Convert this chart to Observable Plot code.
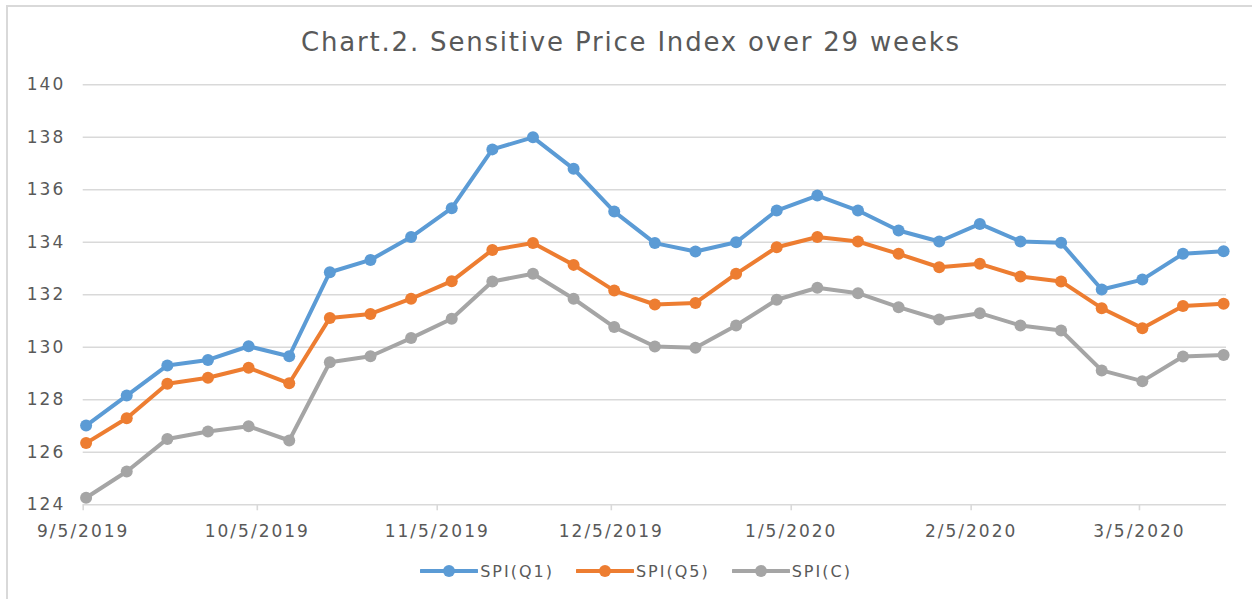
<!DOCTYPE html>
<html>
<head>
<meta charset="utf-8">
<script src="https://cdn.jsdelivr.net/npm/d3@7"></script>
<script src="https://cdn.jsdelivr.net/npm/@observablehq/plot@0.6"></script>
<style>
  html, body { margin: 0; padding: 0; background: #fff; }
  body { width: 1252px; height: 599px; overflow: hidden; position: relative; font-family: "DejaVu Sans", sans-serif; }
  #frame { position: absolute; left: 6px; top: 5px; width: 1300px; height: 700px; border: 2px solid #d9d9d9; box-sizing: border-box; }
  #title { position: relative; height: 64px; text-align: center; font-size: 26px; color: #595959; line-height: 24px; padding-top: 30px; padding-left: 10px; box-sizing: border-box; letter-spacing: 1.8px; }
  #chart { position: relative; }
  #chart svg text { letter-spacing: 2px; }
  #legend { position: absolute; left: 0; top: 561px; width: 1252px; padding-left: 20px; box-sizing: border-box; display: flex; justify-content: center; gap: 22px; font-size: 16px; color: #595959; letter-spacing: 2px; }
  .item { display: flex; align-items: center; }
  .item svg { margin-right: 2px; }
</style>
</head>
<body>
<div id="frame"></div>
<div id="title">Chart.2. Sensitive Price Index over 29 weeks</div>
<div id="chart"></div>
<div id="legend"></div>
<script>
// Weekly observation dates
const dates = [
  "2019-09-05","2019-09-12","2019-09-19","2019-09-26","2019-10-03","2019-10-10","2019-10-17",
  "2019-10-24","2019-10-31","2019-11-07","2019-11-14","2019-11-21","2019-11-28","2019-12-05",
  "2019-12-12","2019-12-19","2019-12-26","2020-01-02","2020-01-09","2020-01-16","2020-01-23",
  "2020-01-30","2020-02-06","2020-02-13","2020-02-20","2020-02-27","2020-03-05","2020-03-12",
  "2020-03-19"
];
const spiQ1 = [127.02,128.16,129.31,129.52,130.04,129.66,132.86,133.33,134.20,135.30,137.54,138.00,136.80,135.17,
  133.97,133.65,134.00,135.21,135.78,135.21,134.45,134.03,134.70,134.03,133.98,132.20,132.58,133.56,133.66];
const spiQ5 = [126.35,127.30,128.61,128.84,129.22,128.63,131.12,131.27,131.85,132.52,133.71,133.97,133.14,132.16,
  131.63,131.69,132.80,133.81,134.20,134.03,133.56,133.05,133.18,132.70,132.51,131.49,130.73,131.57,131.66];
const spiC = [124.27,125.27,126.51,126.79,126.99,126.45,129.43,129.66,130.35,131.09,132.51,132.80,131.85,130.77,
  130.03,129.98,130.83,131.81,132.27,132.06,131.53,131.06,131.30,130.83,130.64,129.12,128.71,129.65,129.71];
const seriesNames = ["SPI(Q1)", "SPI(Q5)", "SPI(C)"];
const seriesColors = ["#5b9bd5", "#ed7d31", "#a5a5a5"];
const monthTicks = ["2019-09-05","2019-10-05","2019-11-05","2019-12-05","2020-01-05","2020-02-05","2020-03-05"];
const yTicks = [124,126,128,130,132,134,136,138,140];

const parse = d3.utcParse("%Y-%m-%d");
const seriesValues = [spiQ1, spiQ5, spiC];
const data = [];
seriesNames.forEach((name, si) => {
  seriesValues[si].forEach((v, i) => {
    // Excel date axis places each point at the middle of its day
    data.push({series: name, date: d3.utcHour.offset(parse(dates[i]), 12), value: v});
  });
});

const fmt = d => `${d.getUTCMonth() + 1}/${d.getUTCDate()}/${d.getUTCFullYear()}`;
const textColor = "#595959";

const plot = Plot.plot({
  width: 1252,
  height: 485,
  marginTop: 20.3,
  marginBottom: 44.7,
  marginLeft: 82.7,
  marginRight: 26,
  style: {fontFamily: "DejaVu Sans, sans-serif", fontSize: "17px", color: textColor, background: "transparent"},
  x: {type: "utc", domain: [parse("2019-09-05"), parse("2020-03-20")]},
  y: {domain: [124, 140]},
  color: {domain: seriesNames, range: seriesColors},
  marks: [
    Plot.gridY(yTicks, {stroke: "#d9d9d9", strokeOpacity: 1, strokeWidth: 1.6}),
    Plot.axisY(yTicks, {tickSize: 0, tickPadding: 18, tickFormat: d => d, fill: textColor, fontSize: 17, label: null}),
    Plot.axisX(monthTicks.map(parse), {tickSize: 6, stroke: "#d9d9d9", strokeWidth: 1.6, tickPadding: 14, tickFormat: fmt, fill: textColor, fontSize: 17, label: null}),
    Plot.line(data, {x: "date", y: "value", z: "series", stroke: "series", strokeWidth: 4, strokeLinejoin: "round", strokeLinecap: "round"}),
    Plot.dot(data, {x: "date", y: "value", fill: "series", r: 6, stroke: "none"})
  ]
});
document.getElementById("chart").appendChild(plot);

// Legend
const legend = document.getElementById("legend");
seriesNames.forEach((name, i) => {
  const item = document.createElement("div");
  item.className = "item";
  item.innerHTML = `<svg width="58" height="20"><line x1="1" y1="10" x2="57" y2="10" stroke="${seriesColors[i]}" stroke-width="4" stroke-linecap="round"/><circle cx="29" cy="10" r="6" fill="${seriesColors[i]}"/></svg><span>${name}</span>`;
  legend.appendChild(item);
});
</script>
</body>
</html>
